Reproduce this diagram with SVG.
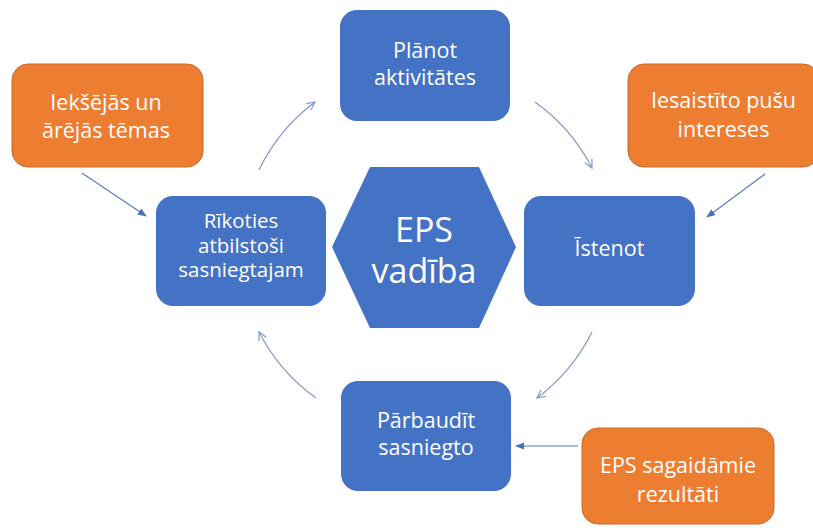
<svg xmlns="http://www.w3.org/2000/svg" width="813" height="528" viewBox="0 0 813 528">
<style>
.blue{fill:#4472C4;}
.orange{fill:#ED7D31;stroke:#C9692A;stroke-width:1;}
.t{font-family:"Open Sans","Liberation Sans",sans-serif;fill:#FFFFFF;text-anchor:middle;font-size:21.5px;}
.big{font-size:34px;}
.sm{font-size:20.5px;}
.arc{fill:none;stroke:#8497C9;stroke-width:1.2;marker-end:url(#open);}
.ln{fill:none;stroke:#5B7BC0;stroke-width:1.2;marker-end:url(#solid);}
</style>
<defs>
<marker id="open" viewBox="0 0 10 10" refX="9" refY="5" markerWidth="10" markerHeight="10" markerUnits="userSpaceOnUse" orient="auto">
<path d="M1,1 L9,5 L1,9" fill="none" stroke="#8497C9" stroke-width="1.2"/>
</marker>
<marker id="solid" viewBox="0 0 10 10" refX="9" refY="5" markerWidth="9" markerHeight="9" markerUnits="userSpaceOnUse" orient="auto">
<path d="M0,1 L10,5 L0,9 Z" fill="#4A6FB8"/>
</marker>
</defs>
<rect width="813" height="528" fill="#FFFFFF"/>
<g id="connectors">
<path class="arc" d="M259,170 A185,185 0 0 1 315,102"/>
<path class="arc" d="M535,102 A185,185 0 0 1 592,168"/>
<path class="arc" d="M592,332 A185,185 0 0 1 537,398"/>
<path class="arc" d="M316,398 A185,185 0 0 1 259,332"/>
<path class="ln" d="M82,173 L146,216"/>
<path class="ln" d="M765,174 L707,217"/>
<path class="ln" d="M578,446 L516,446"/>
</g>
<g id="center">
<polygon class="blue" points="332,247 370,167 479,167 516,247 479,328 370,328"/>
<text class="t big" x="424" y="242">EPS</text>
<text class="t big" x="424" y="283">vadība</text>
</g>
<g id="planot">
<rect class="blue" x="340" y="10" width="170" height="111" rx="17"/>
<text class="t" x="425" y="58">Plānot</text>
<text class="t" x="425" y="85">aktivitātes</text>
</g>
<g id="istenot">
<rect class="blue" x="524" y="196" width="171" height="110" rx="17"/>
<text class="t" x="609.5" y="256">Īstenot</text>
</g>
<g id="parbaudit">
<rect class="blue" x="341" y="381" width="170" height="110" rx="17"/>
<text class="t" x="426" y="428">Pārbaudīt</text>
<text class="t" x="426" y="455">sasniegto</text>
</g>
<g id="rikoties">
<rect class="blue" x="156" y="196" width="170" height="110" rx="17"/>
<text class="t sm" x="241" y="228">Rīkoties</text>
<text class="t sm" x="241" y="252.5">atbilstoši</text>
<text class="t sm" x="241" y="277">sasniegtajam</text>
</g>
<g id="ieksejas">
<rect class="orange" x="12" y="64" width="191" height="103" rx="16"/>
<text class="t" x="106" y="110">Iekšējās un</text>
<text class="t" x="106" y="138">ārējās tēmas</text>
</g>
<g id="iesaistito">
<rect class="orange" x="628" y="64" width="191" height="103" rx="16"/>
<text class="t" x="723.5" y="108">Iesaistīto pušu</text>
<text class="t" x="723.5" y="137">intereses</text>
</g>
<g id="rezultati">
<rect class="orange" x="582" y="428" width="192" height="96" rx="16"/>
<text class="t" x="678" y="473">EPS sagaidāmie</text>
<text class="t" x="678" y="502">rezultāti</text>
</g>
</svg>
